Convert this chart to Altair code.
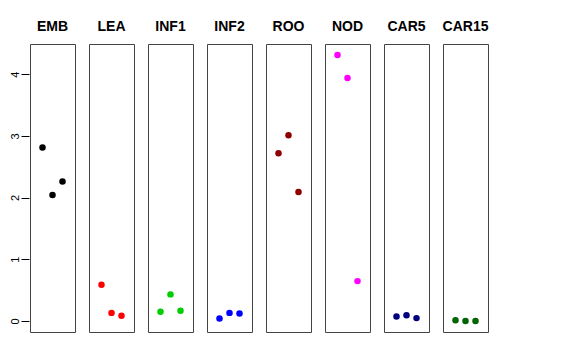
import altair as alt
import pandas as pd

groups = ["EMB", "LEA", "INF1", "INF2", "ROO", "NOD", "CAR5", "CAR15"]
colors = ["#000000", "#FF0000", "#00CD00", "#0000FF", "#8B0000", "#FF00FF", "#000080", "#006400"]
values = [
    [2.81, 2.04, 2.26],
    [0.585, 0.13, 0.085],
    [0.15, 0.43, 0.165],
    [0.04, 0.13, 0.12],
    [2.72, 3.01, 2.09],
    [4.31, 3.94, 0.645],
    [0.07, 0.09, 0.045],
    [0.01, 0.0, 0.0],
]
positions = [1, 2, 3]
y_ticks = [0, 1, 2, 3, 4]

rows = []
for g, c, vals in zip(groups, colors, values):
    for p, v in zip(positions, vals):
        rows.append({"group": g, "pos": p, "value": v, "color": c})
df = pd.DataFrame(rows)

FONT = "Liberation Sans"

base = alt.Chart(df).mark_circle(size=42, opacity=1).encode(
    x=alt.X("pos:Q", scale=alt.Scale(domain=[-0.25, 4.25], nice=False, zero=False), axis=None),
    y=alt.Y("value:Q", scale=alt.Scale(domain=[-0.18, 4.49], nice=False, zero=False),
            axis=alt.Axis(values=y_ticks, title=None, grid=False, domain=False,
                          tickSize=8, tickColor="#000000", labelAngle=270,
                          labelFontSize=11, labelFont=FONT, labelColor="#000000",
                          labelPadding=1, format="d")),
    color=alt.Color("color:N", scale=None),
).properties(width=45, height=288)

chart = base.facet(
    column=alt.Column("group:N", sort=groups,
                      header=alt.Header(title=None, labelFontSize=14, labelFontWeight="bold",
                                        labelFont=FONT, labelColor="#000000", labelPadding=9)),
    spacing=12,
).properties(
    padding={"left": 0, "top": 12, "right": 5, "bottom": 5},
).configure(background="white").configure_view(stroke="#444444", strokeWidth=1)

chart.save("out.html", embed_options={"renderer": "svg", "actions": False})
